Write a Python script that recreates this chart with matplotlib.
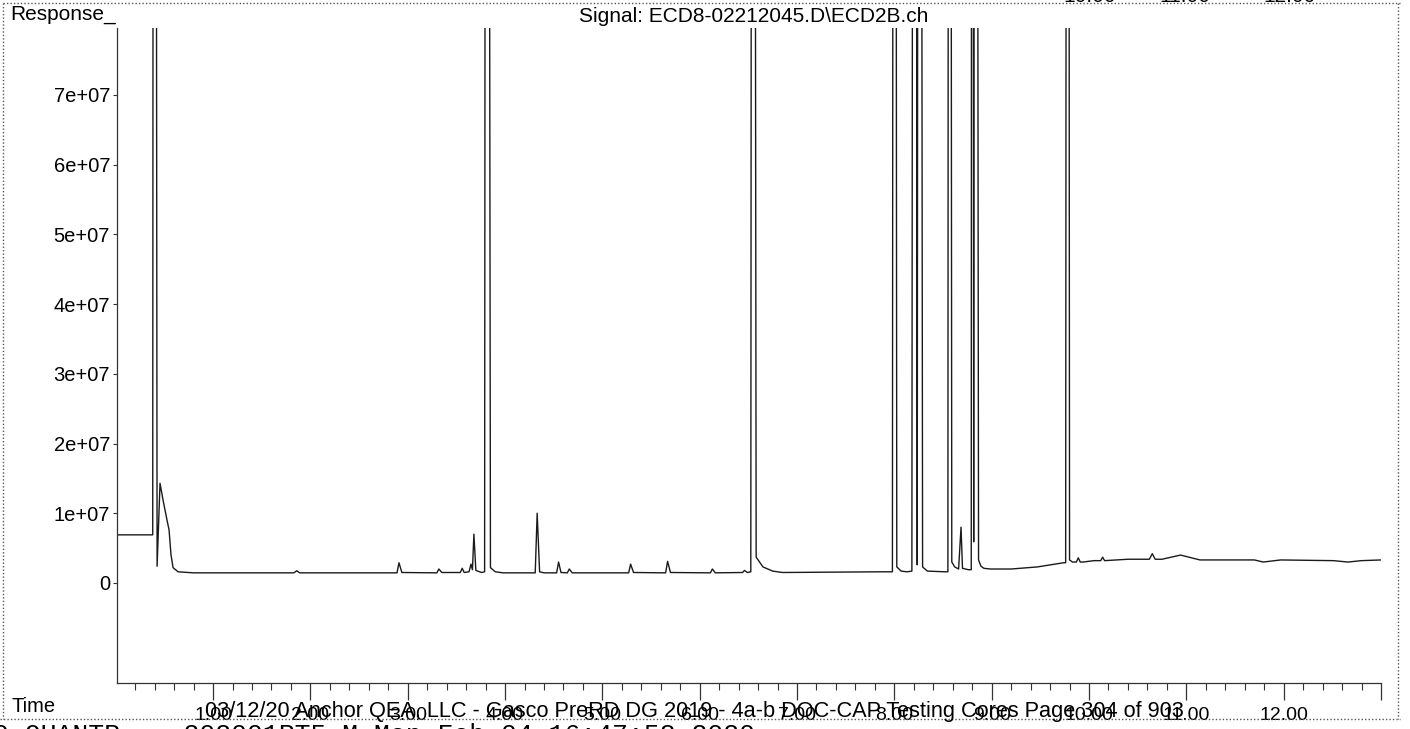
import matplotlib
matplotlib.use('Agg')
import matplotlib.pyplot as plt
from matplotlib.lines import Line2D
from matplotlib.ticker import MultipleLocator, FixedLocator, FuncFormatter

plt.rcParams['font.family'] = ['Liberation Sans', 'DejaVu Sans']

# Trace vertices: time (min), response (x1e6)
# off-scale peaks are given an apex of 400e6 and get clipped by the axes
trace_time = [
    0.000, 0.380, 0.395, 0.425, 0.455, 0.486, 0.527, 0.548, 0.568, 0.589, 0.640, 0.800,
    1.830, 1.860, 1.890,
    2.890, 2.910, 2.940,
    3.300, 3.320, 3.350,
    3.540, 3.560, 3.580,
    3.630, 3.650, 3.665, 3.680, 3.700, 3.760,
    3.790, 3.810, 3.850, 3.900, 3.980,
    4.310, 4.330, 4.355, 4.400,
    4.530, 4.550, 4.575,
    4.640, 4.660, 4.690,
    5.270, 5.290, 5.320,
    5.650, 5.670, 5.700,
    6.110, 6.130, 6.160,
    6.440, 6.460, 6.490,
    6.525, 6.545, 6.580, 6.650, 6.750, 6.850,
    7.860, 7.980, 8.000, 8.025, 8.070, 8.130,
    8.180, 8.205, 8.235, 8.255, 8.290, 8.340, 8.520,
    8.550, 8.565, 8.590, 8.620, 8.660, 8.685, 8.700, 8.760,
    8.790, 8.800, 8.815, 8.830, 8.865, 8.890, 8.920, 8.990,
    9.200, 9.470, 9.740,
    9.760, 9.780, 9.800, 9.830, 9.870, 9.890, 9.910, 9.940,
    10.050, 10.120, 10.140, 10.160, 10.400, 10.620, 10.650, 10.680, 10.750,
    10.940, 11.140, 11.700, 11.790, 11.970, 12.510, 12.660, 12.800, 13.000,
]
trace_resp = [
    6.9, 6.9, 400, 2.4, 14.3, 11.9, 9.0, 7.6, 4.0, 2.2, 1.6, 1.45,
    1.45, 1.75, 1.45,
    1.45, 2.9, 1.5,
    1.45, 2.0, 1.5,
    1.5, 2.1, 1.5,
    1.6, 2.7, 1.9, 7.0, 1.8, 1.5,
    1.6, 400, 2.2, 1.6, 1.45,
    1.45, 10.0, 1.6, 1.45,
    1.45, 3.0, 1.5,
    1.45, 2.0, 1.45,
    1.45, 2.7, 1.5,
    1.45, 3.1, 1.5,
    1.45, 2.0, 1.45,
    1.5, 1.8, 1.5,
    1.6, 400, 3.7, 2.3, 1.7, 1.5,
    1.6, 1.6, 400, 2.3, 1.7, 1.6,
    1.7, 400, 2.6, 400, 2.3, 1.7, 1.6,
    1.6, 400, 3.0, 2.3, 2.0, 8.0, 2.1, 1.9,
    1.9, 400, 5.9, 400, 3.3, 2.4, 2.1, 2.0,
    2.0, 2.3, 2.9,
    2.9, 400, 3.3, 3.0, 3.0, 3.6, 3.0, 3.0,
    3.2, 3.2, 3.7, 3.2, 3.4, 3.4, 4.2, 3.4, 3.4,
    4.0, 3.3, 3.3, 3.0, 3.3, 3.2, 3.0, 3.2, 3.3,
]

x_major = [1, 2, 3, 4, 5, 6, 7, 8, 9, 10, 11, 12, 13]
x_labels = ['1.00', '2.00', '3.00', '4.00', '5.00', '6.00', '7.00', '8.00',
            '9.00', '10.00', '11.00', '12.00', '']
y_ticks = [0, 1e7, 2e7, 3e7, 4e7, 5e7, 6e7, 7e7]

W, H = 1410, 729
fig = plt.figure(figsize=(W / 100, H / 100), dpi=100)
ax = fig.add_axes([117 / W, (H - 683) / H, (1381 - 117) / W, (683 - 28) / H])

ax.plot(trace_time, [r * 1e6 for r in trace_resp], color='#1a1a1a', lw=1.0)

ax.set_xlim(0.013, 13.0)
ax.set_ylim(-1.435e7, 7.96e7)

for s in ['top', 'right']:
    ax.spines[s].set_visible(False)
for s in ['left', 'bottom']:
    ax.spines[s].set_color('#333333')
    ax.spines[s].set_linewidth(0.9)

ax.xaxis.set_major_locator(FixedLocator(x_major))
ax.set_xticklabels(x_labels)
ax.xaxis.set_minor_locator(MultipleLocator(0.2))
ax.tick_params(axis='x', which='major', length=12, width=0.9, pad=5,
               labelsize=14, color='#333333')
ax.tick_params(axis='x', which='minor', length=5, width=0.8, color='#333333')

ax.set_yticks(y_ticks)
ax.yaxis.set_major_formatter(FuncFormatter(
    lambda v, p: '0' if v == 0 else f'{v:.0e}'))
ax.tick_params(axis='y', length=3, width=0.8, pad=2, labelsize=14.5,
               color='#333333')

# header / footer texts
fig.text(10 / W, 1 - 15 / H, 'Response_', fontsize=15, ha='left', va='center')
fig.text(754 / W, 1 - 16 / H, 'Signal: ECD8-02212045.D\\ECD2B.ch',
         fontsize=15, ha='center', va='center')
fig.text(12 / W, 1 - 707 / H, 'Time', fontsize=14.5, ha='left', va='center')
fig.text(205 / W, 1 - 712 / H,
         '03/12/20 Anchor QEA, LLC - Gasco PreRD DG 2019 - 4a-b DOC-CAP '
         'Testing Cores Page 304 of 903',
         fontsize=15.7, ha='left', va='center')
fig.text(-7 / W, 1 - 742 / H,
         '0 QUANTR    202001RT5.M Mon Feb 04 16:47:58 2020',
         fontsize=19, family='Liberation Mono', ha='left', va='baseline')
# bottom edge of the previous page's time labels, cut off at the top
for lbl, xc in zip(['10.00', '11.00', '12.00'], [1090, 1185, 1290]):
    fig.text(xc / W, 1 + 4 / H, lbl, fontsize=15, ha='center', va='center')

# dotted page frame
frame = [((3, 1400), (3, 3)), ((3, 3), (3, 719)),
         ((1398, 1398), (3, 719)), ((0, 1400), (719, 719))]
for xs, ys in frame:
    fig.add_artist(Line2D([x / W for x in xs], [1 - y / H for y in ys],
                          transform=fig.transFigure, color='#555555',
                          lw=1.0, ls=(0, (1, 1.5))))

fig.savefig('out.png', dpi=100)
